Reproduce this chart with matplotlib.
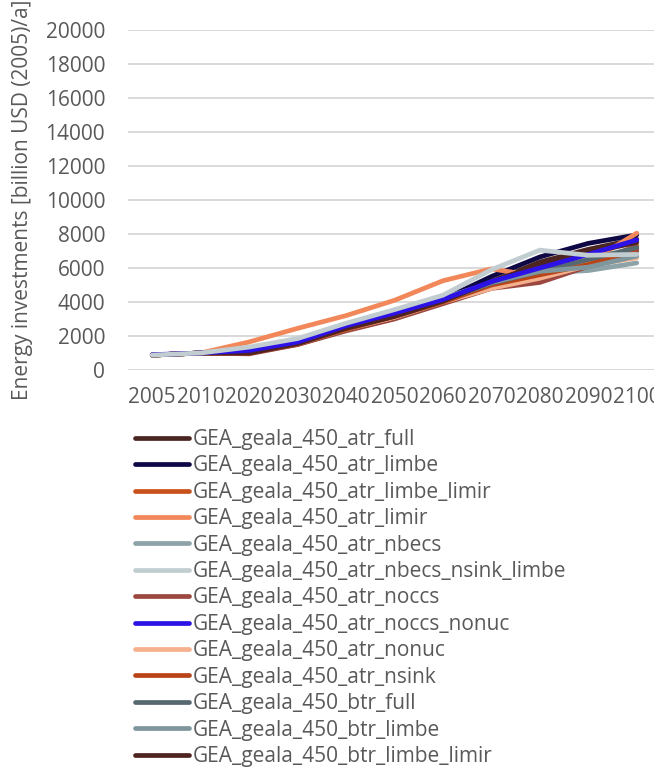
import numpy as np
import matplotlib.pyplot as plt

plt.rcParams['font.family'] = ['Open Sans', 'DejaVu Sans']

years = ['2005', '2010', '2020', '2030', '2040', '2050', '2060', '2070', '2080', '2090', '2100']

scenarios = [
    'GEA_geala_450_atr_full',
    'GEA_geala_450_atr_limbe',
    'GEA_geala_450_atr_limbe_limir',
    'GEA_geala_450_atr_limir',
    'GEA_geala_450_atr_nbecs',
    'GEA_geala_450_atr_nbecs_nsink_limbe',
    'GEA_geala_450_atr_noccs',
    'GEA_geala_450_atr_noccs_nonuc',
    'GEA_geala_450_atr_nonuc',
    'GEA_geala_450_atr_nsink',
    'GEA_geala_450_btr_full',
    'GEA_geala_450_btr_limbe',
    'GEA_geala_450_btr_limbe_limir',
]

# energy investments, billion USD(2005)/a
atr_full = [880, 1000, 1000, 1550, 2450, 3200, 4050, 5200, 6350, 7100, 7700]
atr_limbe = [880, 1000, 1050, 1600, 2500, 3250, 4150, 5500, 6650, 7450, 7950]
atr_limbe_limir = [880, 1000, 1000, 1500, 2350, 3050, 3950, 4900, 5500, 6200, 7300]
atr_limir = [880, 1000, 1650, 2450, 3200, 4100, 5250, 5950, 5500, 6300, 8050]
atr_nbecs = [880, 1000, 1250, 1800, 2700, 3450, 4250, 5100, 5700, 5850, 6300]
atr_nbecs_nsink_limbe = [880, 1000, 1350, 1850, 2750, 3550, 4400, 5900, 7050, 6750, 6800]
atr_noccs = [880, 1000, 950, 1500, 2300, 3000, 3900, 4800, 5150, 6100, 7000]
atr_noccs_nonuc = [900, 1000, 1150, 1650, 2600, 3350, 4150, 5200, 6000, 6800, 7650]
atr_nonuc = [880, 1000, 1100, 1550, 2400, 3100, 4000, 4800, 5400, 6150, 6600]
atr_nsink = [880, 1000, 1000, 1550, 2400, 3150, 4000, 5000, 5600, 6200, 7150]
btr_full = [880, 1000, 1100, 1600, 2500, 3250, 4100, 5100, 5800, 6500, 7200]
btr_limbe = [880, 1000, 1150, 1650, 2550, 3300, 4150, 5150, 5800, 6050, 6700]
btr_limbe_limir = [880, 1000, 1000, 1550, 2450, 3150, 4050, 5200, 6200, 6900, 7500]

series = [atr_full, atr_limbe, atr_limbe_limir, atr_limir, atr_nbecs,
          atr_nbecs_nsink_limbe, atr_noccs, atr_noccs_nonuc, atr_nonuc,
          atr_nsink, btr_full, btr_limbe, btr_limbe_limir]

colors = ['#4A2622', '#0E0845', '#C8511C', '#F2875A', '#8DA3A8', '#C1CDD1',
          '#9C4840', '#2C12E6', '#F5B18E', '#B94418', '#576970', '#7F979C',
          '#4F2420']

grey = '#595959'

fig = plt.figure(figsize=(6.54, 7.68), dpi=100)
ax = fig.add_axes([128 / 654, 1 - 370 / 768, 533 / 654, 340 / 768])

x = np.arange(len(years))
for i, (name, vals, c) in enumerate(zip(scenarios, series, colors)):
    z = 3
    if name.endswith('noccs_nonuc'):
        z = 4
    if name.endswith('nbecs_nsink_limbe'):
        z = 5
    ax.plot(x, vals, color=c, lw=3.4, label=name, zorder=z,
            solid_capstyle='round', solid_joinstyle='round')

ax.set_xlim(-0.5, len(years) - 0.5)
ax.set_ylim(0, 20000)
ax.set_yticks(np.arange(0, 20001, 2000))
ax.set_xticks(x)
ax.set_xticklabels(years)
ax.grid(axis='y', color='#D9D9D9', lw=1.4)
ax.set_axisbelow(True)
for s in ax.spines.values():
    s.set_visible(False)
ax.tick_params(length=0, labelsize=15, labelcolor=grey)
ax.tick_params(axis='y', pad=16.5)
ax.tick_params(axis='x', pad=12)

ax.set_ylabel('Energy investments [billion USD (2005)/a]', fontsize=15, color=grey)
ax.yaxis.set_label_coords(-95 / 533, 0.5)

fig.legend(loc='upper left', bbox_to_anchor=(135 / 654, 1 - 429 / 768),
           frameon=False, fontsize=15, labelcolor=grey, handlelength=2.6,
           handletextpad=0.18, labelspacing=0.26, borderpad=0, borderaxespad=0)

fig.savefig('out.png', dpi=100)
